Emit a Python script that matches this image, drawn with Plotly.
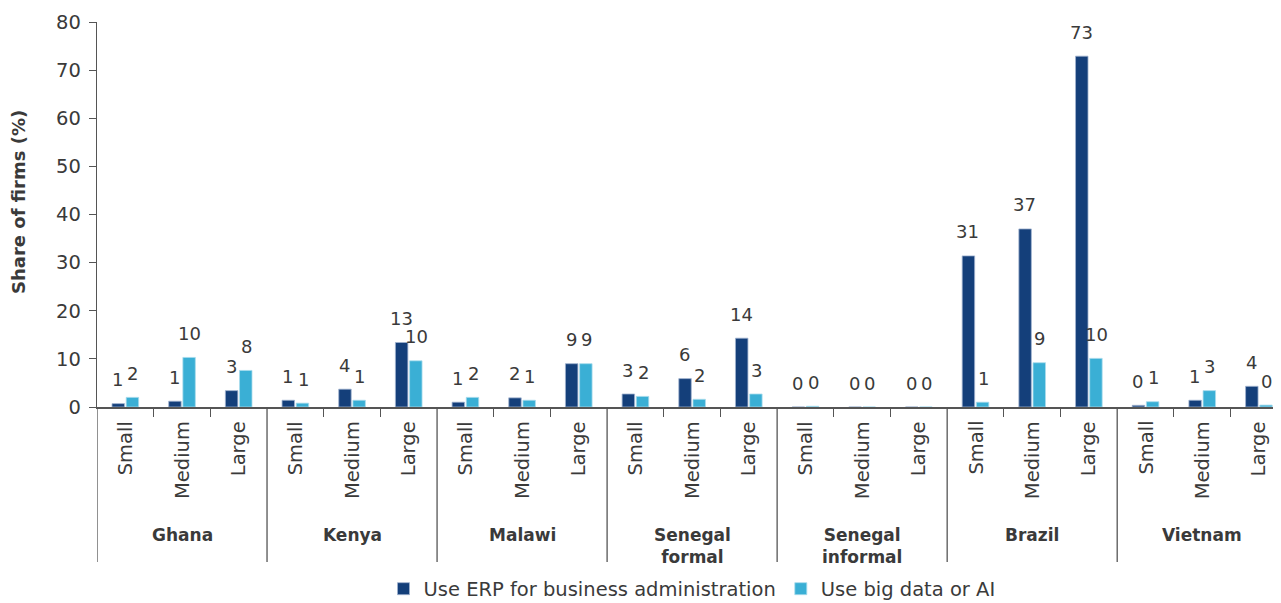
import plotly.graph_objects as go

countries = ["Ghana", "Kenya", "Malawi", "Senegal<br>formal", "Senegal<br>informal", "Brazil", "Vietnam"]
sizes = ["Small", "Medium", "Large"]
erp = [0.7, 1.2, 3.4,
       1.4, 3.7, 13.4,
       1.0, 1.9, 9.0,
       2.7, 5.9, 14.3,
       0.0, 0.0, 0.0,
       31.4, 37.0, 72.9,
       0.35, 1.4, 4.3]
ai = [2.0, 10.3, 7.6,
      0.8, 1.4, 9.6,
      2.0, 1.4, 9.0,
      2.2, 1.6, 2.7,
      0.15, 0.0, 0.0,
      1.0, 9.2, 10.1,
      1.1, 3.4, 0.4]
series_names = ["Use ERP for business administration", "Use big data or AI"]
y_ticks = [0, 10, 20, 30, 40, 50, 60, 70, 80]
y_title = "Share of firms (%)"

FONT = "DejaVu Sans"
TXT = "#3a3a3a"
AXC = "#555555"
C_ERP = "#143F7A"
C_AI = "#3AAFD5"

# page body has an 8px margin: work in figure coordinates (screen - 8)
W, H = 1273, 595
L, T, B = 89, 14, 196
plot_h = H - T - B      # 385
plot_w = W - L          # 1184

def py(screen_y):
    return (407 - screen_y) / plot_h

def px(screen_x):
    return (screen_x - 8 - L) / plot_w

n = len(erp)
xs = list(range(n))
fig = go.Figure()
fig.add_trace(go.Bar(x=xs, y=erp, name=series_names[0], marker=dict(color=C_ERP, line=dict(color="#9fb3cf", width=0.8))))
fig.add_trace(go.Bar(x=xs, y=ai, name=series_names[1], marker=dict(color=C_AI, line=dict(color="#a9dcec", width=0.8))))

ann = []
off = 0.135
for i in range(n):
    for v, dx in ((erp[i], -off), (ai[i], off)):
        ann.append(dict(x=i + dx, y=v, xref="x", yref="y", text=str(int(v + 0.5)),
                        showarrow=False, yshift=24, yanchor="middle", xanchor="center",
                        font=dict(family=FONT, size=18, color=TXT)))
    ann.append(dict(x=i, y=0, xref="x", yref="y", text=sizes[i % 3], textangle=-90,
                    showarrow=False, yshift=-12, yanchor="top", xanchor="center",
                    font=dict(family=FONT, size=19.5, color=TXT)))

for g, c in enumerate(countries):
    ann.append(dict(x=3 * g + 1, y=py(523), xref="x", yref="paper", text="<b>" + c + "</b>",
                    showarrow=False, yanchor="top", xanchor="center",
                    font=dict(family=FONT, size=17, color=TXT)))

ann.append(dict(x=px(18), y=py(202), xref="paper", yref="paper", text="<b>" + y_title + "</b>",
                textangle=-90, showarrow=False, xanchor="center", yanchor="middle",
                font=dict(family=FONT, size=18, color=TXT)))

shapes = []
for g in range(len(countries) + 1):
    xb = 3 * g - 0.5
    shapes.append(dict(type="line", xref="x", yref="paper", x0=xb, x1=xb, y0=0, y1=py(562),
                       line=dict(color=AXC, width=1.3)))

minor_ticks = [3 * g + k - 0.5 for g in range(len(countries)) for k in (1, 2)]

fig.update_layout(
    width=W, height=H,
    margin=dict(l=L, r=0, t=T, b=B, autoexpand=False),
    plot_bgcolor="white", paper_bgcolor="white",
    barmode="group", bargap=0.5, bargroupgap=0.12,
    font=dict(family=FONT, color=TXT, size=17),
    xaxis=dict(range=[-0.5, 20.39], showticklabels=False, showgrid=False, zeroline=False,
               showline=True, linecolor=AXC, linewidth=1.5, automargin=False,
               tickmode="array", tickvals=minor_ticks, ticks="outside", ticklen=8,
               tickcolor=AXC, tickwidth=1.3),
    yaxis=dict(range=[0, 80], tickmode="array", tickvals=y_ticks, showgrid=False, zeroline=False,
               showline=True, linecolor=AXC, linewidth=1.3, ticks="outside", ticklen=7,
               tickcolor=AXC, tickfont=dict(family=FONT, size=19.5, color=TXT), automargin=False,
               ticklabelstandoff=4),
    legend=dict(orientation="h", x=px(692), xanchor="center", y=py(589), yanchor="middle",
                font=dict(family=FONT, size=19.5, color=TXT), traceorder="normal"),
    annotations=ann, shapes=shapes,
)
fig.write_html("out.html")
